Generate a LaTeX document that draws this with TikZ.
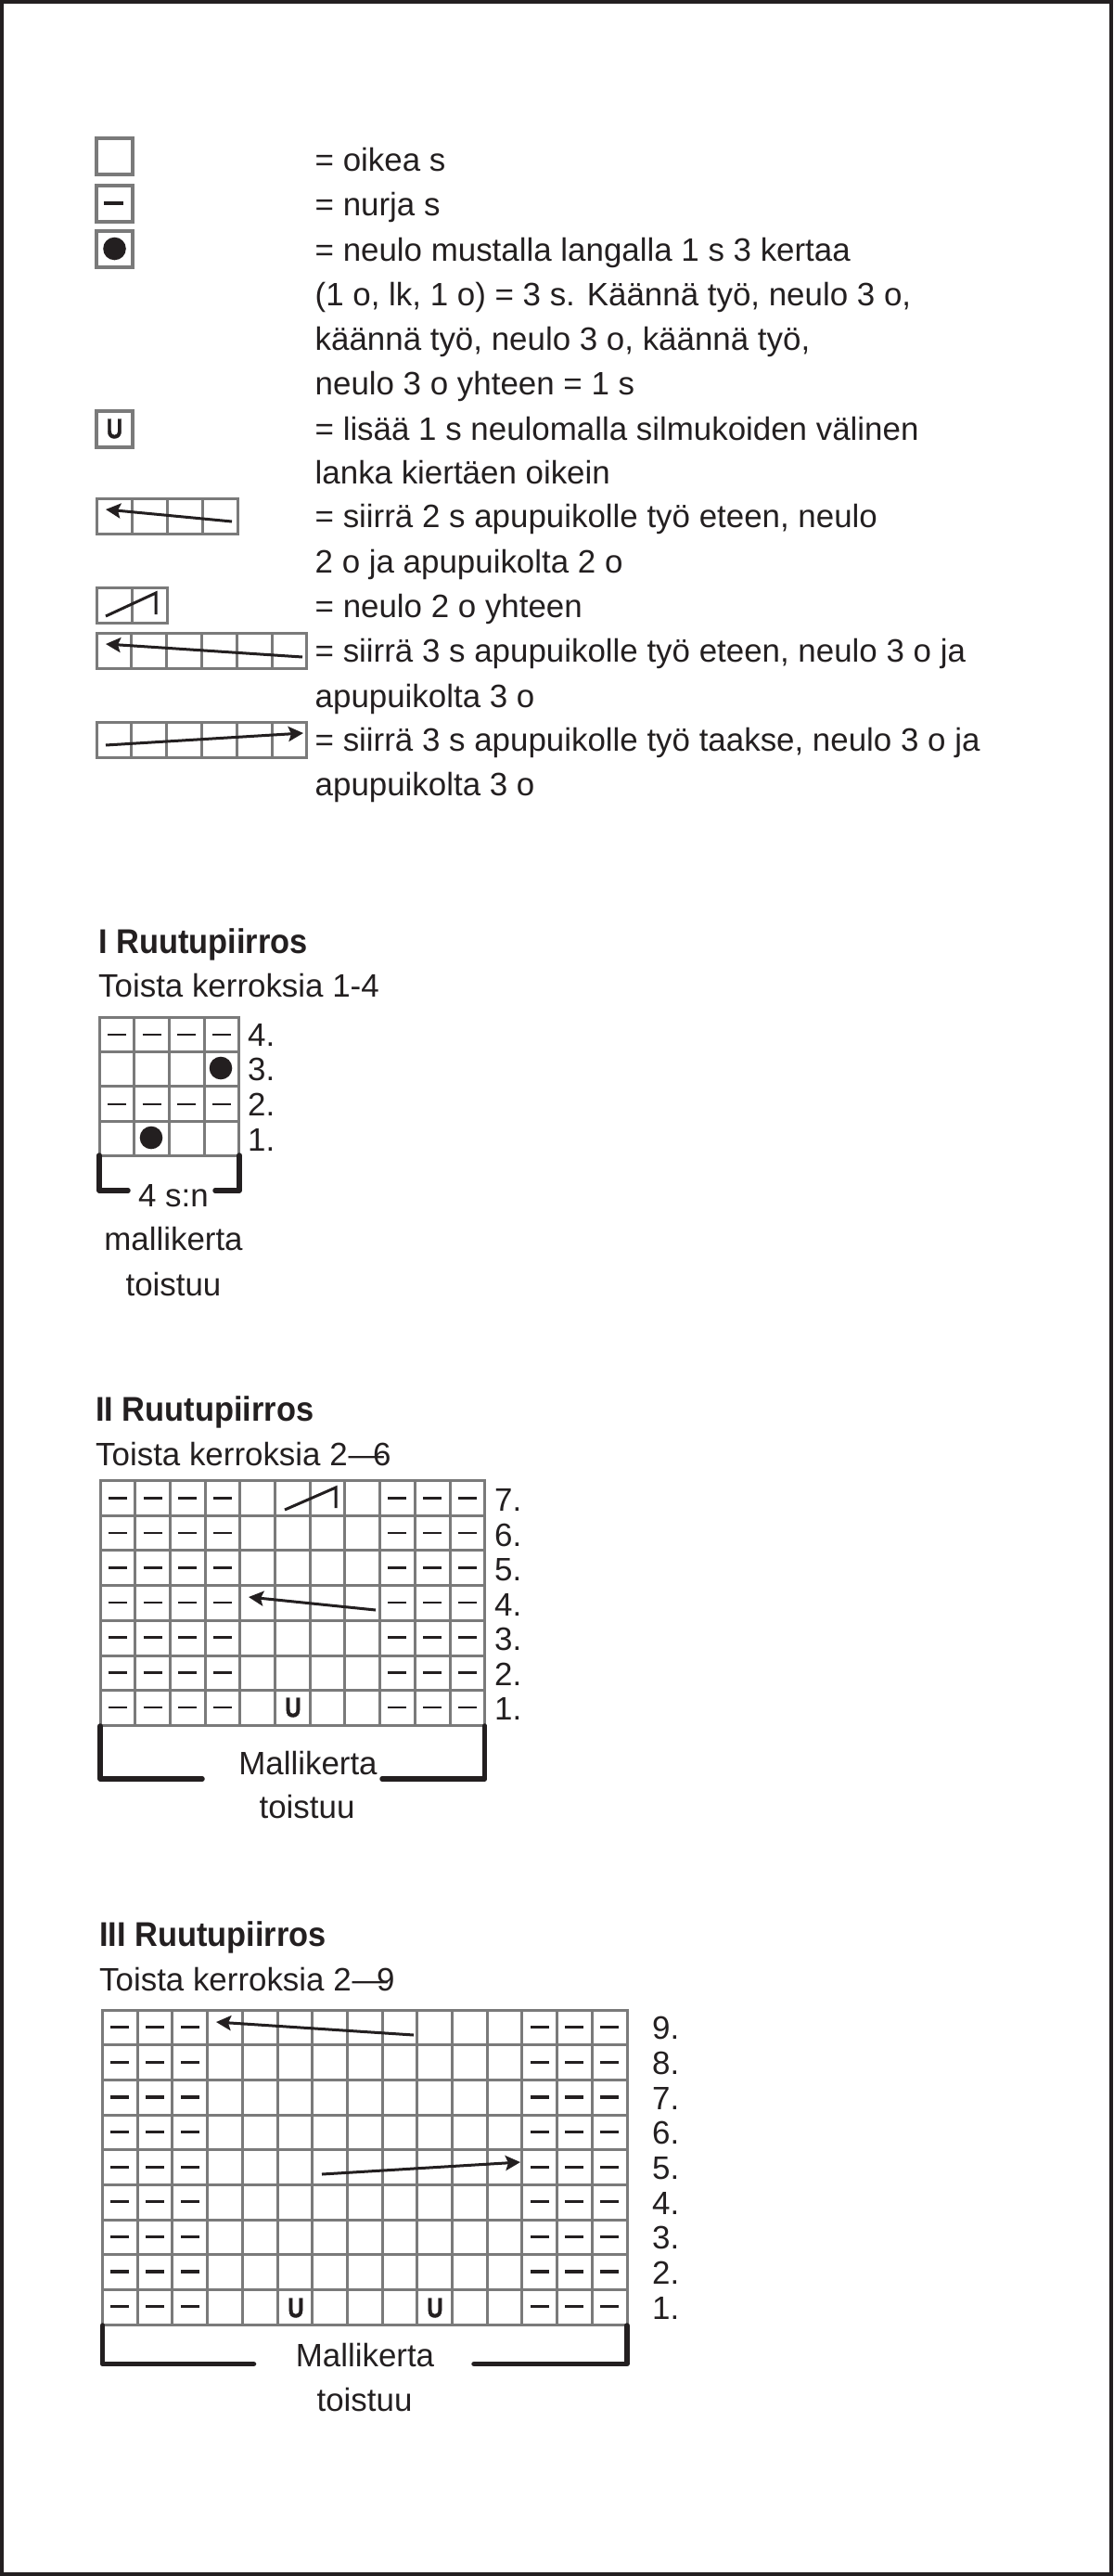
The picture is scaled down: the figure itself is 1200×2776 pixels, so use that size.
\documentclass[tikz,border=0pt]{standalone}
\usepackage{fontspec}
\usetikzlibrary{arrows.meta}
\setmainfont{Liberation Sans}[BoldFeatures={FakeStretch=0.93}]
\newfontfamily\lisaysfont{Liberation Sans}[BoldFeatures={FakeStretch=0.8,FakeBold=1.2}]
\definecolor{muste}{RGB}{35,31,32}
\definecolor{ruutuharmaa}{RGB}{122,122,122}
\tikzset{
  teksti/.style={anchor=base west,inner sep=0pt,text=muste,font=\fontsize{34.9}{48}\selectfont},
  keski/.style={teksti,anchor=base},
  otsikko/.style={teksti,font=\fontsize{37}{48}\selectfont\bfseries},
  ruutu/.style={draw=ruutuharmaa,line width=3pt},
  nurja/.style={draw=muste,line width=3.2pt},
  ohutnurja/.style={draw=muste,line width=2.5pt},
  nuoli/.style={draw=muste,fill=muste,line width=3pt,-{Stealth[length=16pt,width=16pt,inset=3pt]}},
  viiva/.style={draw=muste,line width=3pt},
  sulku/.style={draw=muste,line width=5.5pt,line join=round,line cap=round},
  pallo/.style={fill=muste},
  lisays/.style={anchor=center,inner sep=0pt,text=muste,font=\lisaysfont\fontsize{30}{30}\selectfont\bfseries}
}
% x0, y0, columns, rows, cell width, cell height
\newcommand{\ruudukko}[6]{
  \draw[ruutu] (#1,#2) rectangle ({#1+#3*#5},{#2+#4*#6});
  \foreach \i in {1,...,#3} \draw[ruutu] ({#1+\i*#5},#2) -- ++(0,#4*#6);
  \foreach \j in {1,...,#4} \draw[ruutu] (#1,{#2+\j*#6}) -- ++(#3*#5,0);
}
% x0, y0, column list, row list, style
\newcommand{\nurjat}[5]{
  \foreach \i in {#3} \foreach \j in {#4}
    \draw[#5] ({#1+(\i+.5)*37.7-10},{#2+(\j+.5)*37.6}) -- ++(20,0);
}
\begin{document}
\begin{tikzpicture}[x=1pt,y=-1pt]
\useasboundingbox (0,0) rectangle (1200,2776);
\draw[draw=muste,line width=4pt] (2,2) rectangle (1198,2774);

% merkkien selitys
\draw[ruutu,line width=3.4pt] (104,149) rectangle (143,188);
\draw[ruutu,line width=3.4pt] (104,200) rectangle (143,239);
\draw[nurja] (112,219) -- (133,219);
\draw[ruutu,line width=3.4pt] (104,249) rectangle (143,288);
\fill[pallo] (123.5,268) circle [radius=12.3];
\draw[ruutu,line width=3.4pt] (104,443) rectangle (143,482);
\node[lisays] (lisaysmerkki) at (123.5,462) {U};

\ruudukko{104}{537}{4}{1}{38}{38}
\draw[nuoli] (250,562) -- (114,549);
\ruudukko{104}{633}{2}{1}{38}{38}
\draw[viiva] (114,664) -- (168,639) -- (168,662);
\ruudukko{104}{682}{6}{1}{37.8}{38}
\draw[nuoli] (326,708) -- (114,694);
\ruudukko{104}{778}{6}{1}{37.8}{38}
\draw[nuoli] (114,803) -- (327,790);

\node[teksti] (s1) at (339.5,184) {= oikea s};
\node[teksti] (s2) at (339.5,232) {= nurja s};
\node[teksti] (s3) at (339.5,281) {= neulo mustalla langalla 1 s 3 kertaa};
\node[teksti] (s4) at (339.5,329) {(1 o, lk, 1 o) = 3 s. Käännä työ, neulo 3 o,};
\node[teksti] (s5) at (339.5,377) {käännä työ, neulo 3 o, käännä työ,};
\node[teksti] (s6) at (339.5,425) {neulo 3 o yhteen = 1 s};
\node[teksti] (s7) at (339.5,474) {= lisää 1 s neulomalla silmukoiden välinen};
\node[teksti] (s8) at (339.5,521) {lanka kiertäen oikein};
\node[teksti] (s9) at (339.5,568) {= siirrä 2 s apupuikolle työ eteen, neulo};
\node[teksti] (s10) at (339.5,617) {2 o ja apupuikolta 2 o};
\node[teksti] (s11) at (339.5,665) {= neulo 2 o yhteen};
\node[teksti] (s12) at (339.5,713) {= siirrä 3 s apupuikolle työ eteen, neulo 3 o ja};
\node[teksti] (s13) at (339.5,762) {apupuikolta 3 o};
\node[teksti] (s14) at (339.5,809) {= siirrä 3 s apupuikolle työ taakse, neulo 3 o ja};
\node[teksti] (s15) at (339.5,857) {apupuikolta 3 o};

% I
\node[otsikko] (otsikko1) at (106,1027) {I Ruutupiirros};
\node[teksti] (toista1) at (106,1074) {Toista kerroksia 1-4};
\ruudukko{107}{1096}{4}{4}{37.7}{37.4}
\nurjat{107}{1096}{0,...,3}{0,2}{ohutnurja}
\fill[pallo] (238,1151) circle [radius=12.3];
\fill[pallo] (163,1226) circle [radius=12.3];
\foreach \n/\y in {4/1127,3/1164,2/1202,1/1240}
  \node[teksti] (riviI\n) at (267,\y) {\n.};
\draw[sulku] (138,1283) -- (107,1283) -- (107,1245);
\draw[sulku] (232,1283) -- (258,1283) -- (258,1245);
\node[keski] (sn1) at (187,1300) {4 s:n};
\node[keski] (malli1) at (187,1347) {mallikerta};
\node[keski] (toistuu1) at (187,1396) {toistuu};

% II
\node[otsikko] (otsikko2) at (103,1531) {II Ruutupiirros};
\node[teksti] (toista2) at (103,1579) {Toista kerroksia 2\kern1pt\scalebox{1.1}[1]{—}\kern-12pt 6};
\ruudukko{108}{1595.5}{11}{7}{37.7}{37.7}
\nurjat{108}{1595.5}{0,...,3,8,9,10}{0,2,4,5}{nurja}
\nurjat{108}{1595.5}{0,...,3,8,9,10}{1,3,6}{ohutnurja}
\draw[viiva] (307,1627) -- (362,1603) -- (362,1625);
\draw[nuoli] (405,1735) -- (268,1721);
\node[lisays] (lisaysII) at (316,1840) {U};
\foreach \n/\y in {7/1628,6/1666,5/1703,4/1741,3/1778,2/1816,1/1853}
  \node[teksti] (riviII\n) at (533,\y) {\n.};
\draw[sulku] (218,1917) -- (108,1917) -- (108,1860);
\draw[sulku] (412,1917) -- (522.7,1917) -- (522.7,1860);
\node[keski] (malli2) at (332,1912) {Mallikerta};
\node[keski] (toistuu2) at (331,1959) {toistuu};

% III
\node[otsikko] (otsikko3) at (107,2097) {III Ruutupiirros};
\node[teksti] (toista3) at (107,2145.5) {Toista kerroksia 2\kern1pt\scalebox{1.1}[1]{—}\kern-12pt 9};
\ruudukko{110.5}{2166}{15}{9}{37.7}{37.7}
\nurjat{110.5}{2166}{0,1,2,12,13,14}{0,1,2,4,5,7}{nurja}
\nurjat{110.5}{2166}{0,1,2,12,13,14}{3,6,8}{ohutnurja}
\draw[nuoli] (446,2193) -- (233,2179);
\draw[nuoli] (347,2343) -- (561,2330);
\node[lisays] (lisaysIII1) at (319,2487) {U};
\node[lisays] (lisaysIII2) at (469,2487) {U};
\foreach \n/\y in {9/2197,8/2235,7/2273,6/2310,5/2348,4/2386,3/2423,2/2461,1/2499}
  \node[teksti] (riviIII\n) at (703,\y) {\n.};
\draw[sulku] (273.5,2547.5) -- (110.5,2547.5) -- (110.5,2506);
\draw[sulku] (511,2547.5) -- (676,2547.5) -- (676,2506);
\node[keski] (malli3) at (393.5,2550.5) {Mallikerta};
\node[keski] (toistuu3) at (393,2598.5) {toistuu};
\end{tikzpicture}
\end{document}
